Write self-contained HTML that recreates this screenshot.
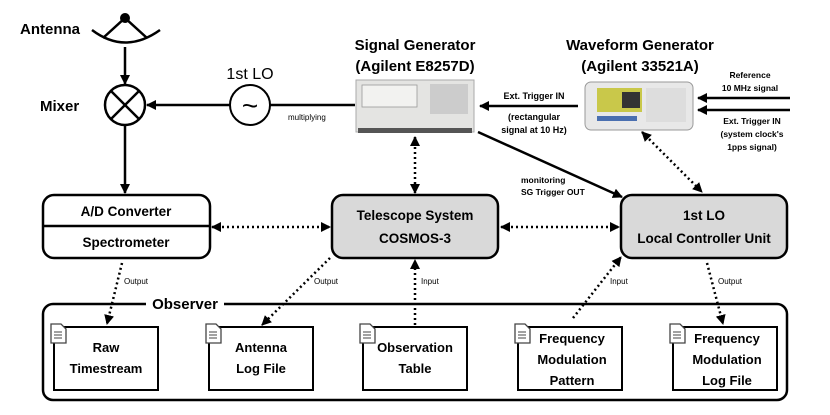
<!DOCTYPE html>
<html><head><meta charset="utf-8"><style>
body{margin:0;background:#fff}
svg{display:block}
text{font-family:"Liberation Sans",sans-serif;fill:#000}
</style></head><body>
<svg width="830" height="415" viewBox="0 0 830 415" xmlns="http://www.w3.org/2000/svg">
<defs>
<marker id="a" markerWidth="10" markerHeight="10" refX="9" refY="5" orient="auto" markerUnits="userSpaceOnUse"><path d="M0,0 L10,5 L0,10 z" fill="#000"/></marker>
<marker id="as" markerWidth="10" markerHeight="10" refX="1" refY="5" orient="auto" markerUnits="userSpaceOnUse"><path d="M10,0 L0,5 L10,10 z" fill="#000"/></marker>
</defs>
<!-- antenna -->
<text x="20" y="34" font-size="15" font-weight="bold">Antenna</text>
<circle cx="125" cy="18" r="5" fill="#000"/>
<path d="M92,30 Q125,55 160,30" fill="none" stroke="#000" stroke-width="2.5"/>
<path d="M103,38 L125,18 L147,38" fill="none" stroke="#000" stroke-width="2.5"/>
<line x1="125" y1="47" x2="125" y2="84" stroke="#000" stroke-width="2.5" marker-end="url(#a)"/>
<!-- mixer -->
<text x="40" y="111" font-size="15" font-weight="bold">Mixer</text>
<circle cx="125" cy="105" r="20" fill="#fff" stroke="#000" stroke-width="2.5"/>
<line x1="111" y1="91" x2="139" y2="119" stroke="#000" stroke-width="2.5"/>
<line x1="139" y1="91" x2="111" y2="119" stroke="#000" stroke-width="2.5"/>
<line x1="125" y1="125" x2="125" y2="193" stroke="#000" stroke-width="2.5" marker-end="url(#a)"/>
<!-- 1st LO -->
<text x="250" y="79" font-size="16" text-anchor="middle">1st LO</text>
<circle cx="250" cy="105" r="20" fill="#fff" stroke="#000" stroke-width="2"/>
<text x="250" y="115" font-size="28" text-anchor="middle">~</text>
<line x1="230" y1="105" x2="147" y2="105" stroke="#000" stroke-width="2.5" marker-end="url(#a)"/>
<line x1="270" y1="105" x2="355" y2="105" stroke="#000" stroke-width="2.5"/>
<text x="288" y="120" font-size="8">multiplying</text>
<!-- SG -->
<text x="415" y="50" font-size="15" font-weight="bold" text-anchor="middle">Signal Generator</text>
<text x="415" y="71" font-size="15" font-weight="bold" text-anchor="middle">(Agilent E8257D)</text>
<rect x="356" y="80" width="118" height="52" fill="#e4e4e2" stroke="#aaa"/>
<rect x="362" y="85" width="55" height="22" fill="#f2f2f0" stroke="#999" stroke-width="0.8"/>
<rect x="430" y="84" width="38" height="30" fill="#ccc"/>
<rect x="358" y="128" width="114" height="5" fill="#555"/>
<!-- WG -->
<text x="640" y="50" font-size="15" font-weight="bold" text-anchor="middle">Waveform Generator</text>
<text x="640" y="71" font-size="15" font-weight="bold" text-anchor="middle">(Agilent 33521A)</text>
<rect x="585" y="82" width="108" height="48" rx="6" fill="#e8e8e8" stroke="#999"/>
<rect x="597" y="88" width="45" height="24" fill="#c9c84a"/>
<rect x="622" y="92" width="18" height="16" fill="#333"/>
<rect x="597" y="116" width="40" height="5" fill="#4a6fb0"/>
<rect x="646" y="88" width="40" height="34" fill="#ddd"/>
<line x1="578" y1="106" x2="480" y2="106" stroke="#000" stroke-width="2.5" marker-end="url(#a)"/>
<text x="534" y="99" font-size="9" font-weight="bold" text-anchor="middle">Ext. Trigger IN</text>
<text x="534" y="120" font-size="9" font-weight="bold" text-anchor="middle">(rectangular</text>
<text x="534" y="133" font-size="9" font-weight="bold" text-anchor="middle">signal at 10 Hz)</text>
<line x1="790" y1="98" x2="698" y2="98" stroke="#000" stroke-width="2.5" marker-end="url(#a)"/>
<line x1="790" y1="110" x2="698" y2="110" stroke="#000" stroke-width="2.5" marker-end="url(#a)"/>
<text x="750" y="78" font-size="8.5" font-weight="bold" text-anchor="middle">Reference</text>
<text x="750" y="91" font-size="8.5" font-weight="bold" text-anchor="middle">10 MHz signal</text>
<text x="752" y="124" font-size="8.5" font-weight="bold" text-anchor="middle">Ext. Trigger IN</text>
<text x="752" y="137" font-size="8.5" font-weight="bold" text-anchor="middle">(system clock's</text>
<text x="752" y="150" font-size="8.5" font-weight="bold" text-anchor="middle">1pps signal)</text>
<line x1="478" y1="132" x2="622" y2="197" stroke="#000" stroke-width="2.5" marker-end="url(#a)"/>
<text x="521" y="183" font-size="8.5" font-weight="bold">monitoring</text>
<text x="521" y="195" font-size="8.5" font-weight="bold">SG Trigger OUT</text>
<!-- dotted links -->
<g stroke="#000" stroke-width="2.5" stroke-dasharray="2 3" fill="none">
<line x1="415" y1="137" x2="415" y2="193" marker-start="url(#as)" marker-end="url(#a)"/>
<line x1="642" y1="132" x2="702" y2="192" marker-start="url(#as)" marker-end="url(#a)"/>
<line x1="212" y1="227" x2="330" y2="227" marker-start="url(#as)" marker-end="url(#a)"/>
<line x1="501" y1="227" x2="619" y2="227" marker-start="url(#as)" marker-end="url(#a)"/>
<line x1="122" y1="263" x2="107" y2="324" marker-end="url(#a)"/>
<line x1="330" y1="258" x2="262" y2="325" marker-end="url(#a)"/>
<line x1="415" y1="330" x2="415" y2="260" marker-end="url(#a)"/>
<line x1="573" y1="318" x2="621" y2="257" marker-end="url(#a)"/>
<line x1="707" y1="263" x2="723" y2="324" marker-end="url(#a)"/>
</g>
<g font-size="8">
<text x="124" y="284">Output</text>
<text x="314" y="284">Output</text>
<text x="421" y="284">Input</text>
<text x="610" y="284">Input</text>
<text x="718" y="284">Output</text>
</g>
<!-- boxes -->
<g font-weight="bold">
<rect x="43" y="195" width="167" height="63" rx="11" fill="#fff" stroke="#000" stroke-width="2.5"/>
<line x1="43" y1="226" x2="210" y2="226" stroke="#000" stroke-width="2.5"/>
<text x="126" y="216" font-size="13.5" text-anchor="middle">A/D Converter</text>
<text x="126" y="247" font-size="13.5" text-anchor="middle">Spectrometer</text>
<rect x="332" y="195" width="166" height="63" rx="11" fill="#d9d9d9" stroke="#000" stroke-width="2.5"/>
<text x="415" y="220" font-size="13.5" text-anchor="middle">Telescope System</text>
<text x="415" y="243" font-size="13.5" text-anchor="middle">COSMOS-3</text>
<rect x="621" y="195" width="166" height="63" rx="11" fill="#d9d9d9" stroke="#000" stroke-width="2.5"/>
<text x="704" y="220" font-size="13.5" text-anchor="middle">1st LO</text>
<text x="704" y="243" font-size="13.5" text-anchor="middle">Local Controller Unit</text>
</g>
<!-- observer -->
<rect x="43" y="304" width="744" height="96" rx="10" fill="none" stroke="#000" stroke-width="2.5"/>
<rect x="146" y="296" width="78" height="14" fill="#fff"/>
<text x="185" y="309" font-size="15" font-weight="bold" text-anchor="middle">Observer</text>
<g stroke="#000" stroke-width="2" fill="#fff">
<rect x="54" y="327" width="104" height="63"/>
<rect x="209" y="327" width="104" height="63"/>
<rect x="363" y="327" width="104" height="63"/>
<rect x="518" y="327" width="104" height="63"/>
<rect x="673" y="327" width="104" height="63"/>
</g>
<g fill="#fff" stroke="#444" stroke-width="1.3">
<path d="M51,324 h10 l5,5 v14 h-15 z"/><path d="M206,324 h10 l5,5 v14 h-15 z"/><path d="M360,324 h10 l5,5 v14 h-15 z"/><path d="M515,324 h10 l5,5 v14 h-15 z"/><path d="M670,324 h10 l5,5 v14 h-15 z"/>
</g>
<g stroke="#444" stroke-width="1">
<path d="M54,332 h8 M54,335 h8 M54,338 h8"/><path d="M209,332 h8 M209,335 h8 M209,338 h8"/><path d="M363,332 h8 M363,335 h8 M363,338 h8"/><path d="M518,332 h8 M518,335 h8 M518,338 h8"/><path d="M673,332 h8 M673,335 h8 M673,338 h8"/>
</g>
<g font-size="13" font-weight="bold" text-anchor="middle">
<text x="106" y="352">Raw</text><text x="106" y="373">Timestream</text>
<text x="261" y="352">Antenna</text><text x="261" y="373">Log File</text>
<text x="415" y="352">Observation</text><text x="415" y="373">Table</text>
<text x="572" y="343">Frequency</text><text x="572" y="364">Modulation</text><text x="572" y="385">Pattern</text>
<text x="727" y="343">Frequency</text><text x="727" y="364">Modulation</text><text x="727" y="385">Log File</text>
</g>
</svg>
</body></html>
